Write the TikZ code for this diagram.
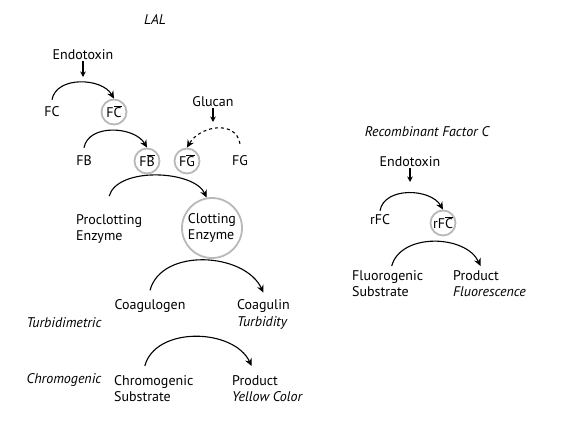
\documentclass[tikz,border=0pt]{standalone}
\usepackage{fontspec}
\setmainfont{PT Sans}
\usetikzlibrary{arrows.meta}
\newcommand{\actv}[1]{$\overline{\mbox{#1}}$}

\begin{document}
\begin{tikzpicture}[x=1pt,y=-1pt,
  lbl/.style={font=\fontsize{14}{16.5}\selectfont, inner sep=1pt, align=left},
  ital/.style={lbl, font=\fontsize{14}{16.5}\selectfont\itshape},
  actc/.style={lbl, circle, draw=black!28, line width=1.8pt, inner sep=0pt, minimum size=25pt},
  flow/.style={-{Stealth[length=7.5pt,width=7pt]}, line width=1.1pt},
  tick/.style={-{Stealth[length=5.5pt,width=5.5pt]}, line width=1.1pt}]
\useasboundingbox (0,0) rectangle (576,433);
%LAL cascade
\node[ital] (lal) at (155,20) {LAL};
\node[lbl] (endo) at (83,55) {Endotoxin};
\coordinate (endotip) at (83,77);
\draw[tick] (endo) -- (endotip);
\node[lbl] (fc) at (52,112) {FC};
\node[actc] (fca) at (114,112) {F\actv{C}};
\draw[flow] ([yshift=6pt]fc.north) to[out=80,in=120] (fca.north);
\node[lbl] (fb) at (84,161) {FB};
\node[actc] (fba) at (147,161) {F\actv{B}};
\node[actc] (fga) at (187,161) {F\actv{G}};
\node[lbl] (fg) at (240,161) {FG};
\draw[flow] ([yshift=7pt]fb.north) to[out=80,in=120] (fba.north);
\node[lbl] (glucan) at (213,102) {Glucan};
\coordinate (glucantip) at (213,122);
\draw[tick] (glucan) -- (glucantip);
\draw[flow, dashed] ([yshift=11pt]fg.north) to[out=100,in=60,looseness=1.2] (fga.north);
\node[lbl, anchor=west] (proc) at (75,229) {Proclotting\\Enzyme};
\node[actc, minimum size=60pt] (clot) at (212,228) {Clotting\\Enzyme};
\draw[flow] ([yshift=17pt]proc.north) to[out=75,in=115,looseness=0.8] (clot.100);
\node[lbl] (coag) at (150,306) {Coagulogen};
\node[lbl, anchor=west] (coagulin) at (236,314.5) {Coagulin\\\textit{Turbidity}};
\node[ital] (turb) at (64,323) {Turbidimetric};
\draw[flow] ([yshift=8pt]coag.north) to[out=75,in=115] ([yshift=6pt]coagulin.north);
\node[ital] (chromo) at (64,380) {Chromogenic};
\node[lbl, anchor=west] (csub) at (113,388.5) {Chromogenic\\Substrate};
\node[lbl, anchor=west] (yprod) at (231,388.5) {Product\\\textit{Yellow Color}};
\draw[flow] ([shift={(-9pt,8pt)}]csub.north) to[out=75,in=115] ([shift={(-16pt,8pt)}]yprod.north);
%rFC
\node[ital] (rfctitle) at (427,132) {Recombinant Factor C};
\node[lbl] (endo2) at (410,162) {Endotoxin};
\coordinate (endo2tip) at (410,182);
\draw[tick] (endo2) -- (endo2tip);
\node[lbl] (rfc) at (380,220) {rFC};
\node[actc] (rfca) at (443,223) {rF\actv{C}};
\draw[flow] ([yshift=3pt]rfc.north) to[out=80,in=120] (rfca.north);
\node[lbl, anchor=west] (fsub) at (351,283.5) {Fluorogenic\\Substrate};
\node[lbl, anchor=west] (fprod) at (452,283.5) {Product\\\textit{Fluorescence}};
\draw[flow] ([shift={(4pt,3pt)}]fsub.north) to[out=75,in=115] ([shift={(-9pt,3pt)}]fprod.north);
\end{tikzpicture}
\end{document}
